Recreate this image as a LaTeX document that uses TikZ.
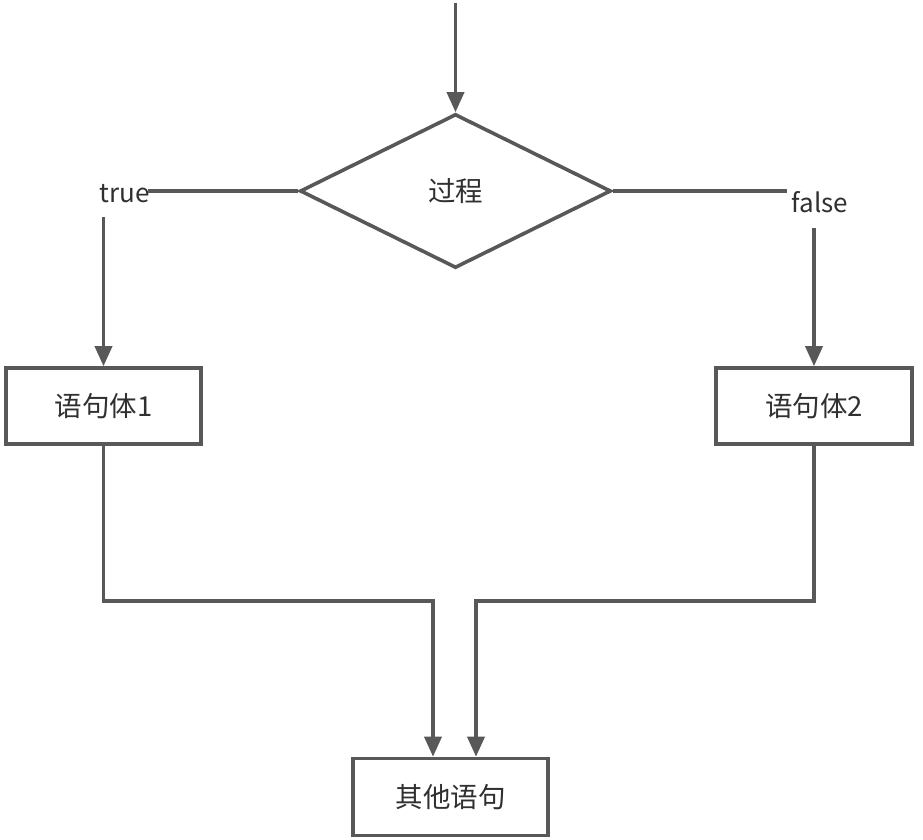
\documentclass[tikz,border=0pt]{standalone}
\usepackage{fontspec}
\setmainfont{Noto Sans CJK SC}
\usetikzlibrary{arrows.meta,shapes.geometric}
\definecolor{linegray}{HTML}{585858}
\definecolor{textgray}{HTML}{303030}
\begin{document}
\begin{tikzpicture}[x=1pt,y=-1pt,
  flow/.style={draw=linegray, line width=3.6pt},
  arr/.style={flow, -{Triangle[length=20pt,width=17pt]}},
  txt/.style={text=textgray, font=\fontsize{26}{30}\selectfont},
  cjk/.style={text=textgray, font=\fontsize{27.5}{32}\selectfont},
  stepbox/.style={flow, cjk, rectangle, inner sep=0pt, fill=white,
    minimum width=195pt, minimum height=76pt},
  decision/.style={flow, cjk, diamond, inner sep=0pt, aspect=2,
    minimum width=311pt, minimum height=154pt},
  lbl/.style={txt, inner sep=0pt, anchor=base}]
  \useasboundingbox (0,0) rectangle (923,840);

  % decision and statement boxes
  \node[decision] (dec) at (455.5,191) {过程};
  \node[stepbox] (b1) at (103.5,406) {语句体1};
  \node[stepbox, minimum width=196pt] (b2) at (814,406) {语句体2};
  \node[stepbox, minimum height=77pt] (bot) at (450.5,797) {其他语句};

  % branch labels
  \node[lbl] (tl) at (124.5,202) {true};
  \node[lbl] (fl) at (820,212) {false};

  % helper points
  \coordinate (entry) at (455.5,3);
  \coordinate (tend) at (148,191);
  \coordinate (fend) at (787,191);
  \coordinate (tdrop) at (103.5,217);
  \coordinate (fdrop) at (814,228);
  \coordinate (jl) at (433,601);
  \coordinate (jr) at (476,601);

  % connectors
  \draw[arr] (entry) -- (dec.north);
  \draw[flow] (dec.west) -- (tend);
  \draw[flow] (dec.east) -- (fend);
  \draw[arr] (tdrop) -- (b1.north);
  \draw[arr] (fdrop) -- (b2.north);
  \draw[arr] (b1.south) |- (jl) -- (jl |- bot.north);
  \draw[arr] (b2.south) |- (jr) -- (jr |- bot.north);
\end{tikzpicture}
\end{document}
